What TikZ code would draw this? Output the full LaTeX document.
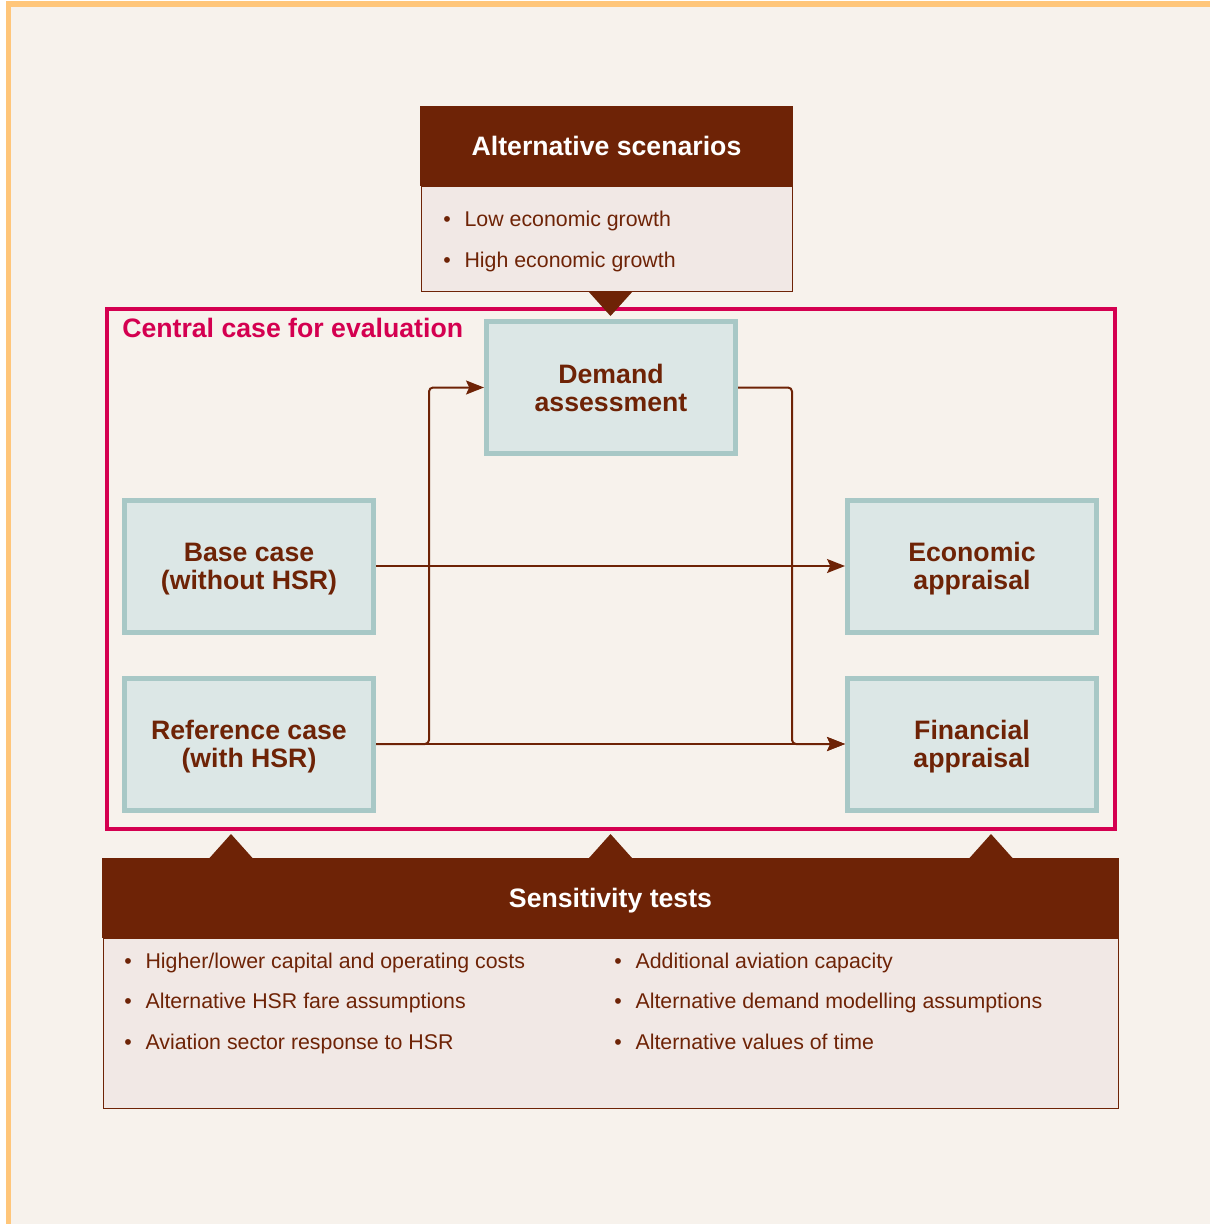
\documentclass[tikz,border=0pt]{standalone}
\usepackage{fontspec}
\setmainfont{Liberation Sans}
\usetikzlibrary{arrows.meta,positioning}

\definecolor{cream}{RGB}{247,242,236}
\definecolor{frameorange}{RGB}{255,198,122}
\definecolor{darkbrown}{RGB}{110,35,6}
\definecolor{pinkfill}{RGB}{241,232,229}
\definecolor{tealfill}{RGB}{220,231,230}
\definecolor{tealline}{RGB}{168,200,198}
\definecolor{crimson}{RGB}{212,0,80}

\newcommand{\bul}{\makebox[16pt][l]{\textbullet}}

\tikzset{
    casebox/.style={draw=tealline, fill=tealfill, line width=3.75pt, minimum width=186.75pt, minimum height=99pt,
        align=center, text=darkbrown, inner sep=0pt, text depth=0pt, font=\bfseries\fontsize{20}{21}\selectfont},
    headbox/.style={fill=darkbrown, text=white, minimum height=60pt, inner sep=0pt, text depth=0pt, font=\bfseries\fontsize{20}{24}\selectfont},
    listbox/.style={draw=darkbrown, fill=pinkfill, line width=0.75pt, inner sep=0pt},
    item/.style={anchor=base west, inner sep=0pt, text=darkbrown, font=\fontsize{16}{19}\selectfont},
    flow/.style={-{Stealth[length=13.5pt,width=10.5pt,inset=2.5pt]}, line width=1.5pt, draw=darkbrown, rounded corners=3pt}
}

\begin{document}
\begin{tikzpicture}[x=0.75pt, y=-0.75pt]

    % page and orange edge
    \useasboundingbox (0,0) rectangle (1210,1224);
    \fill[cream] (6,1) rectangle (1210,1224);
    \fill[frameorange] (6,1) rectangle (1210,7);
    \fill[frameorange] (6,1) rectangle (11,1224);

    % alternative scenarios
    \node [headbox, minimum width=279.75pt] (althead) at (606.5,146) {Alternative scenarios};
    \node [listbox, minimum width=278.25pt, minimum height=78.75pt] (altbody) [below=0pt of althead] {};
    \node [item] (alt1) at (443,226) {\bul Low economic growth};
    \node [item] (alt2) at (443,267) {\bul High economic growth};

    % central case
    \node [draw=crimson, line width=3pt, minimum width=756pt, minimum height=390pt] (central) at (611,569) {};
    \node [anchor=base west, inner sep=0pt, text=crimson, font=\bfseries\fontsize{20}{24}\selectfont] (centrallabel) at (122,337) {Central case for evaluation};

    \node [casebox] (demand) at (611,387.5) {Demand\\assessment};
    \node [casebox] (base) at (249,566) {Base case\\(without HSR)};
    \node [casebox] (reference) [below of=base, node distance=133.5pt] {Reference case\\(with HSR)};
    \node [casebox] (economic) [right of=base, node distance=542.25pt] {Economic\\appraisal};
    \node [casebox] (financial) [right of=reference, node distance=542.25pt] {Financial\\appraisal};

    \draw[flow] (base) -- (economic);
    \draw[flow] (reference) -- (financial);
    \draw[flow] (reference.east) -- ++(53,0) |- (demand.west);
    \draw[flow] (demand.east) -- ++(54,0) |- (financial.west);

    % sensitivity tests
    \node [headbox, minimum width=762.75pt] (senshead) at (610.5,898) {Sensitivity tests};
    \node [listbox, minimum width=761.25pt, minimum height=127.5pt] (sensbody) [below=0pt of senshead] {};
    \node [item] (sens1) at (124,968) {\bul Higher/lower capital and operating costs};
    \node [item] (sens2) at (124,1008) {\bul Alternative HSR fare assumptions};
    \node [item] (sens3) at (124,1049) {\bul Aviation sector response to HSR};
    \node [item] (sens4) at (614,968) {\bul Additional aviation capacity};
    \node [item] (sens5) at (614,1008) {\bul Alternative demand modelling assumptions};
    \node [item] (sens6) at (614,1049) {\bul Alternative values of time};

    % pointers
    \fill[darkbrown] (588,291) -- (610.5,316) -- (633,291) -- cycle;
    \fill[darkbrown] (209.5,858) -- (231,834) -- (252.5,858) -- cycle;
    \fill[darkbrown] (589,858) -- (610.5,834) -- (632,858) -- cycle;
    \fill[darkbrown] (969.5,858) -- (991,834) -- (1012.5,858) -- cycle;

\end{tikzpicture}
\end{document}
